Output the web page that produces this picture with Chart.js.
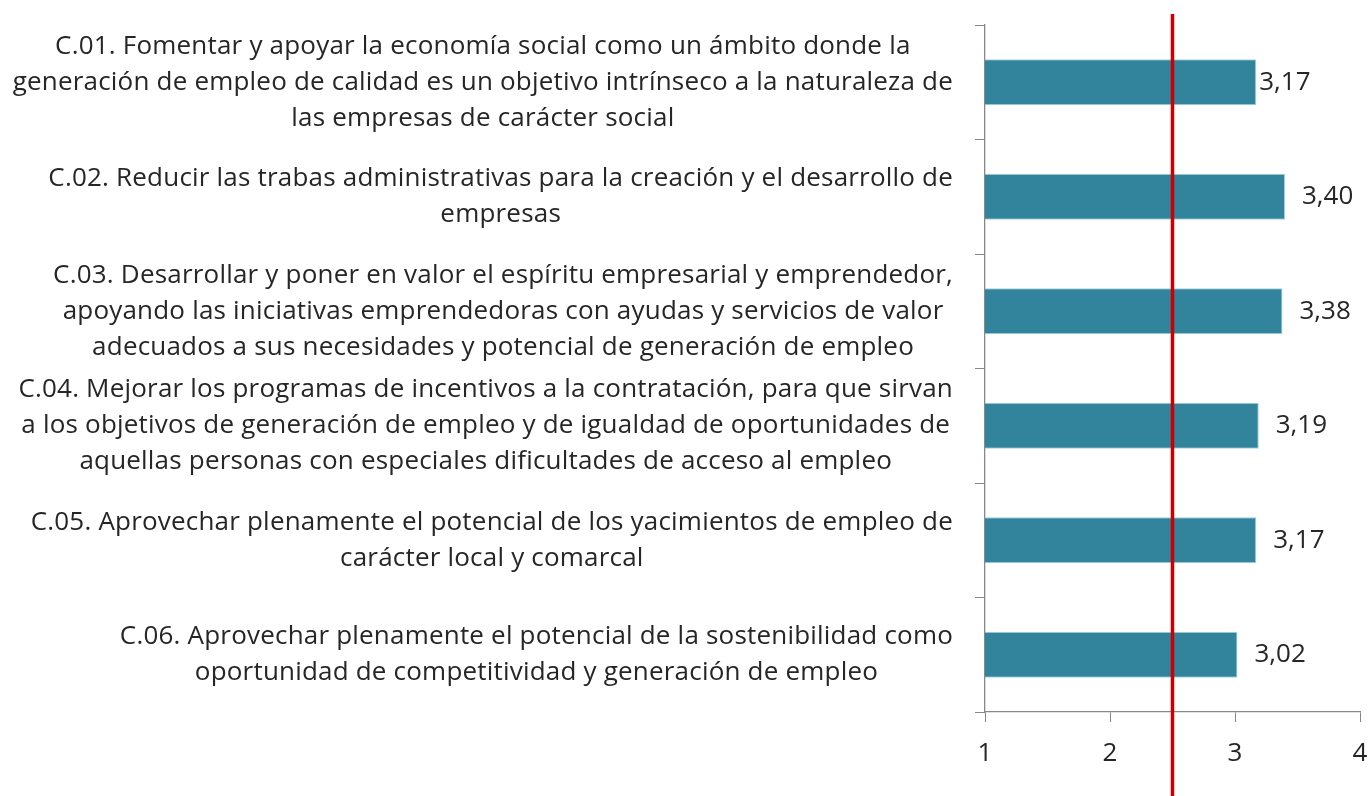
<!DOCTYPE html>
<html>
<head>
<meta charset="utf-8">
<script src="https://cdn.jsdelivr.net/npm/chart.js@4"></script>
<style>
  html, body { margin: 0; padding: 0; background: #fff; }
  #wrap { width: 1369px; height: 796px; }
</style>
</head>
<body>
<div id="wrap"><canvas id="chart"></canvas></div>
<script>
var categories = [
    ['C.01. Fomentar y apoyar la economía social como un ámbito donde la',
     'generación de empleo de calidad es un objetivo intrínseco a la naturaleza de',
     'las empresas de carácter social'],
    ['C.02. Reducir las trabas administrativas para la creación y el desarrollo de',
     'empresas'],
    ['C.03. Desarrollar y poner en valor el espíritu empresarial y emprendedor,',
     'apoyando las iniciativas emprendedoras con ayudas y servicios de valor',
     'adecuados a sus necesidades y potencial de generación de empleo'],
    ['C.04. Mejorar los programas de incentivos a la contratación, para que sirvan',
     'a los objetivos de generación de empleo y de igualdad de oportunidades de',
     'aquellas personas con especiales dificultades de acceso al empleo'],
    ['C.05. Aprovechar plenamente el potencial de los yacimientos de empleo de',
     'carácter local y comarcal'],
    ['C.06. Aprovechar plenamente el potencial de la sostenibilidad como',
     'oportunidad de competitividad y generación de empleo']
];
var values = [3.17, 3.40, 3.38, 3.19, 3.17, 3.02];
var xTicks = [1, 2, 3, 4];
var refValue = 2.5;

var FONT = '"Open Sans", sans-serif';
var TEXT = '#262626';

// labels on the left: each block centred on itself, block right edge fixed
var catLabels = {
    id: 'catLabels',
    afterDraw: function (chart) {
        var ctx = chart.ctx;
        var y = chart.scales.y;
        var right = 953, lineH = 36;
        ctx.save();
        ctx.font = '26px ' + FONT;
        ctx.letterSpacing = '0.2px';
        ctx.fillStyle = TEXT;
        ctx.textAlign = 'center';
        ctx.textBaseline = 'middle';
        categories.forEach(function (lines, i) {
            var w = 0;
            lines.forEach(function (l) { w = Math.max(w, ctx.measureText(l).width); });
            var cx = right - w / 2;
            var cy = y.getPixelForValue(i);
            var y0 = cy - (lines.length - 1) * lineH / 2;
            lines.forEach(function (l, k) { ctx.fillText(l, cx, y0 + k * lineH); });
        });
        ctx.restore();
    }
};

var valueLabels = {
    id: 'valueLabels',
    afterDatasetsDraw: function (chart) {
        var ctx = chart.ctx;
        var meta = chart.getDatasetMeta(0);
        ctx.save();
        ctx.font = '26px ' + FONT;
        ctx.fillStyle = TEXT;
        ctx.textAlign = 'left';
        ctx.textBaseline = 'middle';
        meta.data.forEach(function (bar, i) {
            var gap = i === 0 ? 3 : 17;
            ctx.fillText(values[i].toFixed(2).replace('.', ','), bar.x + gap, bar.y);
        });
        ctx.restore();
    }
};

var refLine = {
    id: 'refLine',
    afterDatasetsDraw: function (chart) {
        var ctx = chart.ctx;
        var x = chart.scales.x.getPixelForValue(refValue);
        ctx.save();
        ctx.strokeStyle = '#cc0000';
        ctx.lineWidth = 3.5;
        ctx.beginPath();
        ctx.moveTo(x, 14);
        ctx.lineTo(x, chart.height);
        ctx.stroke();
        ctx.restore();
    }
};

new Chart(document.getElementById('chart'), {
    type: 'bar',
    data: {
        labels: categories.map(function (c, i) { return 'C.0' + (i + 1); }),
        datasets: [{
            data: values,
            backgroundColor: '#31849b',
            borderColor: '#a7cfda',
            borderWidth: 1,
            borderSkipped: false,
            barPercentage: 0.4,
            categoryPercentage: 1
        }]
    },
    options: {
        indexAxis: 'y',
        responsive: true,
        maintainAspectRatio: false,
        animation: false,
        layout: { padding: { left: 975, top: 25, right: 9, bottom: 0 } },
        plugins: {
            legend: { display: false },
            tooltip: { enabled: false }
        },
        scales: {
            x: {
                min: 1,
                max: 4,
                afterBuildTicks: function (s) {
                    s.ticks = xTicks.map(function (v) { return { value: v }; });
                },
                afterFit: function (s) {
                    s.height = 84;
                    s.paddingLeft = 0;
                    s.paddingRight = 0;
                },
                grid: { drawOnChartArea: false, drawTicks: true, tickLength: 10, color: '#888' },
                border: { display: true, color: '#888', width: 1.3 },
                ticks: { font: { family: FONT, size: 26 }, color: TEXT, padding: 16, maxRotation: 0 }
            },
            y: {
                grid: { drawOnChartArea: false, drawTicks: true, tickLength: 10, color: '#888', offset: true },
                border: { display: true, color: '#888', width: 1.3 },
                ticks: { display: false },
                afterFit: function (s) { s.width = 10; }
            }
        }
    },
    plugins: [catLabels, valueLabels, refLine]
});
</script>
</body>
</html>
